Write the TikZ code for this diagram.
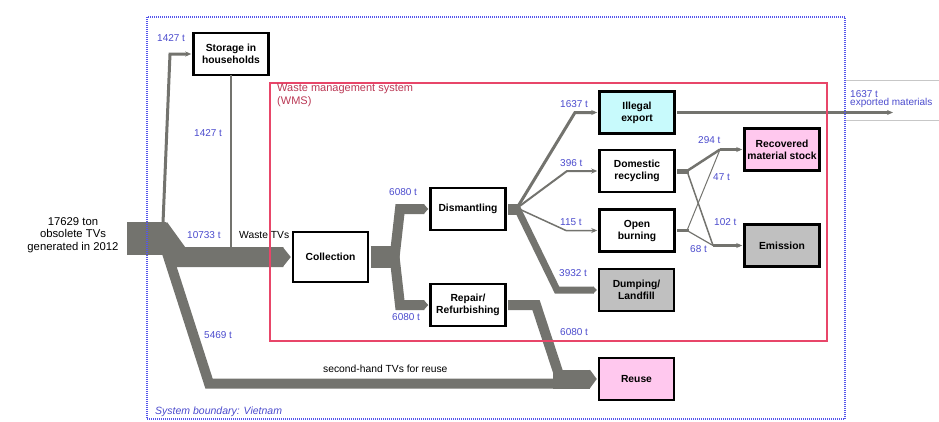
\documentclass[tikz,border=0pt]{standalone}
\usepackage{fontspec}
\setmainfont{Liberation Sans}
\usetikzlibrary{arrows.meta}

\definecolor{flowgray}{RGB}{115,115,110}
\definecolor{lblblue}{RGB}{75,75,205}
\definecolor{wmsred}{RGB}{232,70,105}
\definecolor{sysblue}{RGB}{85,85,235}
\definecolor{cyanfill}{RGB}{200,250,252}
\definecolor{pinkfill}{RGB}{255,200,238}
\definecolor{greyfill}{RGB}{192,192,192}

% pointed end of a wide flow band: anchor, half width, length
\newcommand{\flowtip}[3]{\fill[flowgray]([xshift=-#3-1pt,yshift=#2]#1)--([xshift=-1pt]#1)--([xshift=-#3-1pt,yshift=-#2]#1)--cycle;}

\tikzset{
  stagebox/.style={draw,line width=2.5pt,minimum width=75pt,minimum height=42pt,inner sep=1pt,align=center,font=\fontsize{10.3}{12}\selectfont\bfseries},
  qty/.style={text=lblblue,anchor=west,inner sep=0pt,font=\fontsize{10}{11}\selectfont},
  plainlbl/.style={anchor=west,inner sep=0pt,font=\fontsize{10.3}{12}\selectfont},
  bandflow/.style={draw=flowgray,line join=miter},
  thinflow/.style={draw=flowgray,line join=miter,-{Stealth[length=6pt,width=5pt]}},
}

\begin{document}
\begin{tikzpicture}[x=1pt,y=-1pt]
    \useasboundingbox (0,0) rectangle (939,421);

    % stages
    \node[stagebox](store)at(231,54){Storage in\\households};
    \node[stagebox,minimum height=50pt](coll)at(330.5,257){Collection};
    \node[stagebox](dism)at(468,209){Dismantling};
    \node[stagebox](repair)at(468,305){Repair/\\Refurbishing};
    \node[stagebox,fill=cyanfill](illegal)at(637,112.5){Illegal\\export};
    \node[stagebox](domrec)at(637,171){Domestic\\recycling};
    \node[stagebox](burn)at(637,230.5){Open\\burning};
    \node[stagebox,fill=greyfill](dump)at(636.5,290){Dumping/\\Landfill};
    \node[stagebox,fill=pinkfill](recov)at(782,149.5){Recovered\\material stock};
    \node[stagebox,fill=greyfill](emis)at(782,245.5){Emission};
    \node[stagebox,fill=pinkfill](reuse)at(636.5,379){Reuse};

    % source
    \node[align=center,font=\fontsize{11.3}{12.5}\selectfont](src)at(73,235){17629 ton\\obsolete TVs\\generated in 2012};
    \node[fill=flowgray,minimum width=39pt,minimum height=33pt,inner sep=0pt](srcbar)at(146.5,238.5){};

    % junction points
    \coordinate(toStore)at(163,223);
    \coordinate(toColl)at(159,228);
    \coordinate(toReuse)at(167,253);
    \coordinate(reuseMerge)at(553,379);
    \coordinate(collSplit)at(398,257);
    \coordinate(dismSplit)at(517,208);
    \coordinate(recSplit)at(687,171);
    \coordinate(burnSplit)at(687,230.5);
    \coordinate(recJoin)at(720,149.5);
    \coordinate(emJoin)at(713,245.5);
    \coordinate(expo)at(893,112.5);

    % flows
    \draw[thinflow,line width=3pt](toStore)--(170,54)--([xshift=-1pt]store.west);
    \draw[flowgray,line width=2.5pt]([yshift=1.25pt]store.south)--(231,248);
    \draw[bandflow,line width=20pt](toColl)--(180,257)--([xshift=-8.5pt]coll.west);
    \flowtip{coll.west}{10pt}{8pt}

    \draw[flowgray,line width=10pt,line join=miter](toReuse)--(209,383.5)--(556,383.5);
    \draw[flowgray,line width=10pt,line join=miter]([xshift=1.25pt]repair.east)--(536,305)--(560,378);
    \draw[bandflow,line width=19pt](reuseMerge)--([xshift=-7.5pt]reuse.west);
    \flowtip{reuse.west}{9.5pt}{7pt}

    \draw[flowgray,line width=22pt]([xshift=1.25pt]coll.east)--(collSplit);
    \draw[bandflow,line width=10pt](394,262)--(400,209)--([xshift=-5pt]dism.west);
    \flowtip{dism.west}{5pt}{4.5pt}
    \draw[bandflow,line width=10pt](394,252)--(400,305)--([xshift=-5pt]repair.west);
    \flowtip{repair.west}{5pt}{4.5pt}

    \draw[flowgray,line width=11pt]([xshift=1.25pt]dism.east)--(520,209);
    \draw[bandflow,line width=7pt](dismSplit)--(557,290)--([xshift=-4pt]dump.west);
    \flowtip{dump.west}{3.5pt}{3.5pt}
    \draw[thinflow,line width=3pt](dismSplit)--(575,112.5)--([xshift=-1pt]illegal.west);
    \draw[thinflow,line width=2pt](dismSplit)--(567,171)--([xshift=-1pt]domrec.west);
    \draw[thinflow,line width=1.5pt](dismSplit)--(566,230.5)--([xshift=-1pt]burn.west);

    \draw[thinflow,line width=3pt]([xshift=1.25pt]illegal.east)--(expo);

    \draw[flowgray,line width=5pt]([xshift=1.25pt]domrec.east)--(689,171);
    \draw[flowgray,line width=3.5pt]([xshift=1.25pt]burn.east)--(689,230.5);
    \draw[flowgray,line width=2.5pt](recSplit)--(recJoin);
    \draw[flowgray,line width=1.5pt](recSplit)--(emJoin);
    \draw[flowgray,line width=1pt](burnSplit)--(recJoin);
    \draw[flowgray,line width=1.2pt](burnSplit)--(emJoin);
    \draw[thinflow,line width=3.5pt](recJoin)--([xshift=-1pt]recov.west);
    \draw[thinflow,line width=3pt](emJoin)--([xshift=-1pt]emis.west);

    % quantities
    \node[qty](q1)at(157,38){1427 t};
    \node[qty](q2)at(194,133){1427 t};
    \node[qty](q3)at(187,235){10733 t};
    \node[plainlbl](wtv)at(239,235){Waste TVs};
    \node[qty](q4)at(204,335){5469 t};
    \node[qty](q5)at(389,192){6080 t};
    \node[qty](q6)at(392,317){6080 t};
    \node[qty](q7)at(560,104){1637 t};
    \node[qty](q8)at(560,163){396 t};
    \node[qty](q9)at(560,222){115 t};
    \node[qty](q10)at(559,273){3932 t};
    \node[qty](q11)at(560,332){6080 t};
    \node[qty](q12)at(698,140){294 t};
    \node[qty](q13)at(713,177){47 t};
    \node[qty](q14)at(714,222){102 t};
    \node[qty](q15)at(690,249){68 t};
    \node[plainlbl](shtv)at(323,369){second-hand TVs for reuse};
    \node[qty,align=left,font=\fontsize{10}{8.5}\selectfont](q16)at(850,99){1637 t\\exported materials};

    % system frames
    \draw[black!22,line width=0.6pt](845,80)--(939,80);
    \draw[black!22,line width=0.6pt](845,120)--(939,120);
    \draw[wmsred,line width=1.2pt](270,83)rectangle(827,341);
    \node[anchor=north west,inner sep=0pt,align=left,text=wmsred!80!black,font=\fontsize{11}{12.5}\selectfont](wms)at(277,84){Waste management system\\(WMS)};
    \draw[sysblue,dash pattern=on 1pt off 1pt,line width=1.1pt](147,17)rectangle(845,419);
    \node[anchor=west,inner sep=0pt,text=lblblue,font=\fontsize{10.5}{12}\selectfont\itshape](sysb)at(155,412){System boundary: Vietnam};
\end{tikzpicture}
\end{document}
